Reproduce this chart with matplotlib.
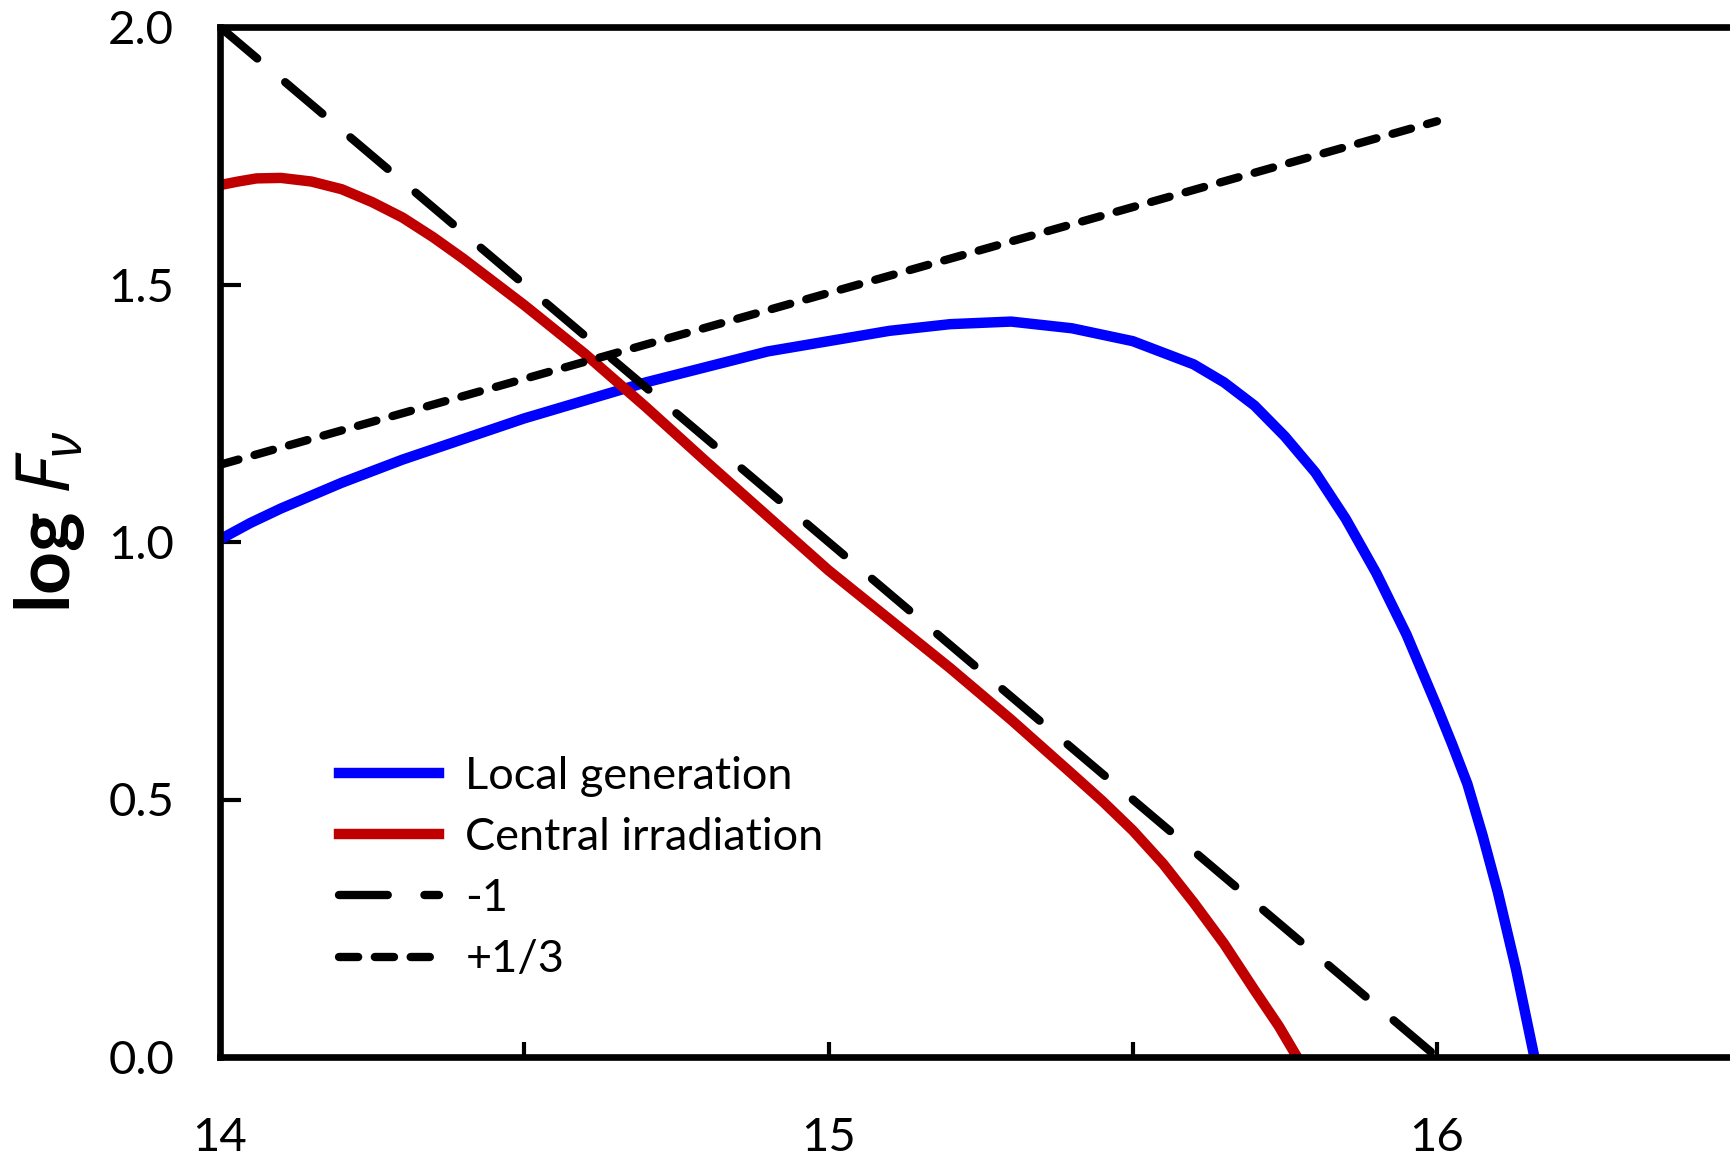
import numpy as np
import matplotlib
matplotlib.use('Agg')
import matplotlib.pyplot as plt

# valores (log nu, log F_nu)
x_local = [14.0, 14.05, 14.1, 14.2, 14.3, 14.4, 14.5, 14.6, 14.7, 14.8, 14.9, 15.0, 15.1, 15.2,
           15.3, 15.4, 15.5, 15.6, 15.65, 15.7, 15.75, 15.8, 15.85, 15.9, 15.95, 16.0,
           16.025, 16.05, 16.075, 16.1, 16.13, 16.16]
y_local = [1.005, 1.037, 1.065, 1.115, 1.16, 1.20, 1.24, 1.275, 1.31, 1.34, 1.37, 1.39, 1.41, 1.423,
           1.428, 1.415, 1.39, 1.345, 1.31, 1.265, 1.205, 1.135, 1.045, 0.94, 0.82, 0.68,
           0.607, 0.53, 0.43, 0.32, 0.17, 0.0]

x_central = [14.0, 14.03, 14.06, 14.1, 14.15, 14.2, 14.25, 14.3, 14.35, 14.4, 14.5, 14.6, 14.7,
             14.8, 14.9, 15.0, 15.1, 15.2, 15.3, 15.4, 15.45, 15.5, 15.55, 15.6, 15.65, 15.7,
             15.74, 15.77]
y_central = [1.693, 1.700, 1.706, 1.707, 1.700, 1.685, 1.66, 1.63, 1.592, 1.55, 1.46, 1.365, 1.262,
             1.155, 1.05, 0.945, 0.85, 0.755, 0.655, 0.55, 0.497, 0.44, 0.375, 0.30, 0.22, 0.13,
             0.06, 0.0]

x_m1 = [14.0, 16.0]
y_m1 = [2.0, 0.0]

x_p13 = [14.0, 16.0]
y_p13 = [1.15, 1.817]

labels = ['Local generation', 'Central irradiation', '-1', '+1/3']

plt.rcParams['font.family'] = ['Lato', 'DejaVu Sans']
plt.rcParams['mathtext.fontset'] = 'custom'
plt.rcParams['mathtext.it'] = 'Noto Sans:italic:bold'
plt.rcParams['mathtext.rm'] = 'Noto Sans:bold'

fig = plt.figure(figsize=(17.31, 11.58), dpi=100)
# el eje sigue mas alla del borde derecho, como en la original recortada
ax = fig.add_axes([220 / 1731, 101 / 1158, 3 * 608.5 / 1731, 1030 / 1158])

ax.plot(x_local, y_local, color='#0000FF', lw=7.5, label=labels[0], solid_joinstyle='round')
ax.plot(x_central, y_central, color='#C00000', lw=7.5, label=labels[1], solid_joinstyle='round')
ax.plot(x_m1, y_m1, color='black', lw=6, dashes=(5.85, 4.4), dash_capstyle='round', label=labels[2])
ax.plot(x_p13, y_p13, color='black', lw=6, dashes=(2.3, 2.0), dash_capstyle='round', label=labels[3])

ax.set_xlim(14, 17)
ax.set_ylim(0, 2)
ax.set_xticks([14, 15, 16])
ax.set_xticks([14.5, 15.5], minor=True)
ax.set_yticks([0, 0.5, 1.0, 1.5, 2.0])
ax.set_yticklabels(['0.0', '0.5', '1.0', '1.5', '2.0'])
ax.tick_params(axis='x', which='both', direction='in', length=11, width=3, pad=43, labelsize=34)
ax.tick_params(axis='y', direction='in', length=15, width=3, pad=33, labelsize=34)
for s in ax.spines.values():
    s.set_linewidth(4.8)

fig.text(50 / 1731, 1 - 522 / 1158, r'log $F_{\nu}$', rotation=90, ha='center', va='center',
         fontsize=54, fontweight='bold')

ax.legend(loc='center left', bbox_to_anchor=(339 / 1731, 290 / 1158), bbox_transform=fig.transFigure,
          frameon=False, fontsize=32.5, handlelength=2.22, handletextpad=0.58, labelspacing=0.45,
          borderpad=0, borderaxespad=0)

plt.savefig('out.png', dpi=100)
